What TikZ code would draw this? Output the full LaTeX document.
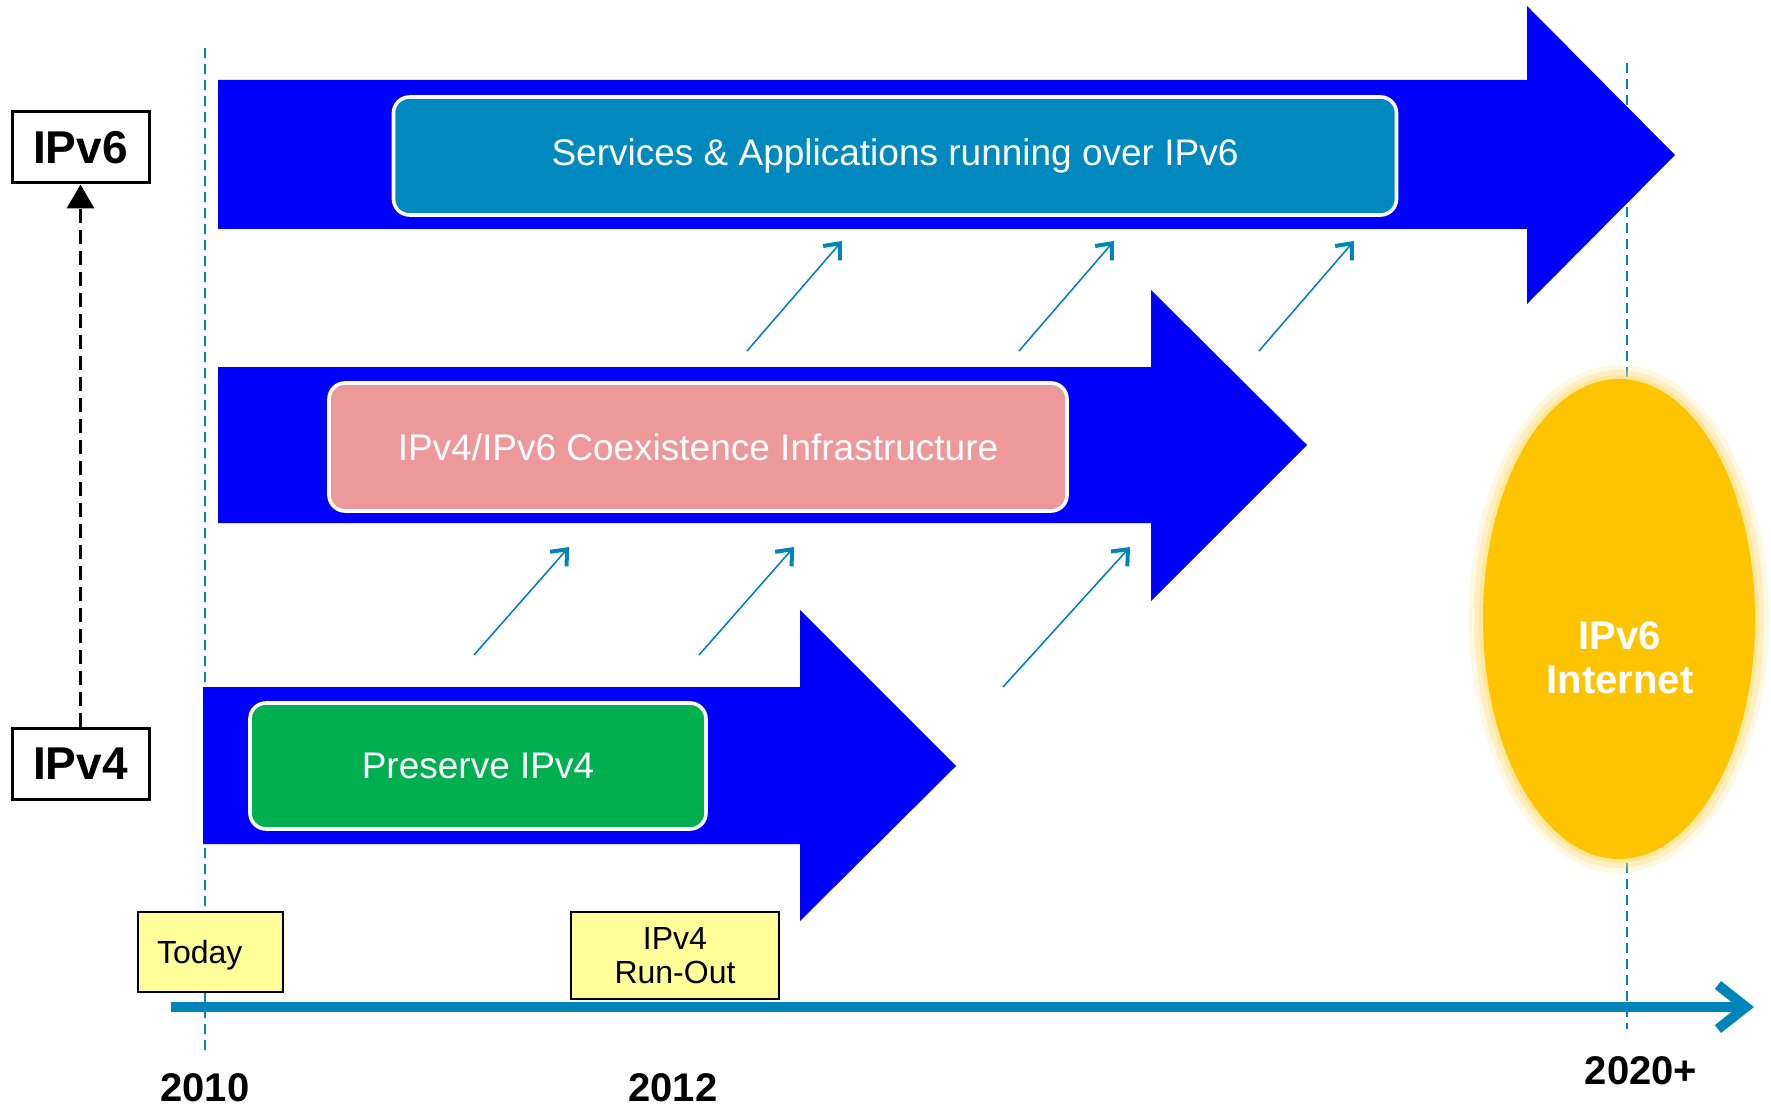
\documentclass[tikz,border=0pt]{standalone}
\usepackage{fontspec}
\setmainfont{Liberation Sans}
\usetikzlibrary{arrows.meta,shapes.geometric}
\definecolor{arrowblue}{HTML}{0000FF}
\definecolor{appteal}{HTML}{0089BE}
\definecolor{coexpink}{HTML}{EE9999}
\definecolor{keepgreen}{HTML}{00B050}
\definecolor{netyellow}{HTML}{FFC400}
\definecolor{glowyellow}{HTML}{FFDC70}
\definecolor{noteyellow}{HTML}{FFFF99}
\definecolor{lineteal}{HTML}{0084BA}

\begin{document}
\begin{tikzpicture}[x=0.5pt,y=-0.5pt,
    phase/.style={rounded corners=8pt, draw=white, line width=1.8pt, text=white,
                  font=\fontsize{18.5}{21}\selectfont, inner sep=0pt},
    tag/.style={draw=black, line width=1.5pt, fill=white, inner sep=0pt,
                font=\bfseries\fontsize{23}{27}\selectfont,
                minimum width=68.5pt, minimum height=35.5pt},
    note/.style={draw=black, line width=1pt, fill=noteyellow, inner sep=0pt,
                 align=center, font=\fontsize{16}{17}\selectfont},
    year/.style={font=\bfseries\fontsize{20}{24}\selectfont},
    push/.style={draw=lineteal, line width=0.8pt,
                 -{Straight Barb[length=6.5pt,width=11pt,line width=2pt]}},
    mark line/.style={draw=lineteal, line width=0.8pt, dash pattern=on 5pt off 3pt}]
    \useasboundingbox (0,0) rectangle (1771,1107);

    % timeline
    \coordinate (tl0) at (171,1007);
    \coordinate (tl1) at (1754,1007);
    \draw[lineteal, line width=5pt, -{Straight Barb[length=14pt,width=22pt]}] (tl0) -- (tl1);

    % year marks
    \coordinate (m0a) at (205,48);
    \coordinate (m0b) at (205,1055);
    \coordinate (m1a) at (1627,63);
    \coordinate (m1b) at (1627,1029);
    \draw[mark line] (m0a) -- (m0b);
    \draw[mark line] (m1a) -- (m1b);

    % the three big arrows
    \fill[arrowblue] (218,80) -- (1527,80) -- (1527,6) -- (1675,155)
        -- (1527,304) -- (1527,229) -- (218,229) -- cycle;              %IPv6
    \fill[arrowblue] (218,367) -- (1151,367) -- (1151,290) -- (1307,445)
        -- (1151,601) -- (1151,523) -- (218,523) -- cycle;              %coexistence
    \fill[arrowblue] (203,687) -- (800,687) -- (800,610) -- (956,766)
        -- (800,921) -- (800,844) -- (203,844) -- cycle;                %IPv4

    \node[phase, fill=appteal, minimum width=501.5pt, minimum height=59pt]
        (apps) at (895,156) {Services \& Applications running over IPv6};
    \node[phase, fill=coexpink, minimum width=369pt, minimum height=64pt]
        (coex) at (698,447) {IPv4/IPv6 Coexistence Infrastructure};
    \node[phase, fill=keepgreen, minimum width=228pt, minimum height=63pt]
        (keep) at (478,766) {Preserve IPv4};

    % small arrows between the layers
    \coordinate (u1a) at (747,351);  \coordinate (u1b) at (842,241);
    \coordinate (u2a) at (1019,351); \coordinate (u2b) at (1114,241);
    \coordinate (u3a) at (1259,351); \coordinate (u3b) at (1354,241);
    \coordinate (l1a) at (474,655);  \coordinate (l1b) at (569,547);
    \coordinate (l2a) at (699,655);  \coordinate (l2b) at (794,547);
    \coordinate (l3a) at (1003,687); \coordinate (l3b) at (1130,547);
    \foreach \n in {u1,u2,u3,l1,l2,l3}
        \draw[push] (\n a) -- (\n b);

    % IPv6 internet
    \foreach \g/\o in {14/0.2,9/0.3,4/0.45}
        \fill[glowyellow, opacity=\o] (1619,619) ellipse [x radius=136+\g, y radius=240+\g];
    \node[ellipse, fill=netyellow, inner sep=0pt, minimum width=136pt,
          minimum height=240pt] (internet) at (1619,619) {};
    \node[text=white, align=center, font=\bfseries\fontsize{20}{22}\selectfont]
        (internettext) at (1620,658) {IPv6\\Internet};

    % left side
    \node[tag] (ipv6) at (80.5,147.5) {IPv6};
    \node[tag] (ipv4) at (80.5,764)   {IPv4};
    \draw[line width=1.7pt, dash pattern=on 7pt off 3.5pt,
          -{Triangle[length=12pt,width=13.5pt]}] (ipv4) -- (ipv6);

    % notes and years
    \node[note, minimum width=72.5pt, minimum height=40pt, text width=53.5pt,
          text depth=0pt, align=left] (today) at (210.5,952) {Today};
    \node[note, minimum width=104pt, minimum height=43.5pt] (runout) at (675,955.5) {IPv4\\Run-Out};
    \node[year] (y2010) at (205,1088) {2010};
    \node[year] (y2012) at (673,1088) {2012};
    \node[year] (y2020) at (1641,1071) {2020+};
\end{tikzpicture}
\end{document}
